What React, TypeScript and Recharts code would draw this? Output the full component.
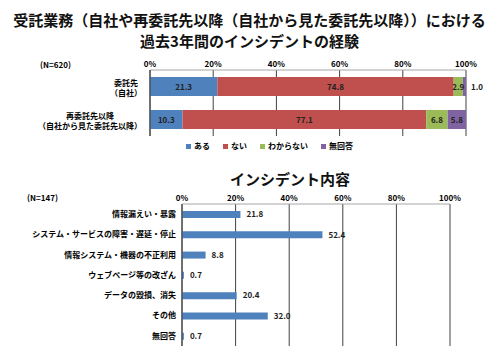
import { Bar, BarChart, CartesianGrid, LabelList, XAxis, YAxis } from 'recharts'

// 上段：過去3年間のインシデントの経験（N=620）
const expCategories = ['委託先\n（自社）', '再委託先以降\n（自社から見た委託先以降）']
const aru = [21.3, 10.3]
const nai = [74.8, 77.1]
const wakaranai = [2.9, 6.8]
const mukaitou = [1.0, 5.8]

// 下段：インシデント内容（N=147）
const incCategories = [
  '情報漏えい・暴露',
  'システム・サービスの障害・遅延・停止',
  '情報システム・機器の不正利用',
  'ウェブページ等の改ざん',
  'データの毀損、消失',
  'その他',
  '無回答',
]
const incValues = [21.8, 52.4, 8.8, 0.7, 20.4, 32.0, 0.7]

const pctTicks = [0, 20, 40, 60, 80, 100]

const FONT = '"Noto Sans CJK JP", "Noto Sans", sans-serif'
const GRID = '#404040'
const FRAME = '#a6a6a6'

// Office系の配色
const SERIES = [
  { key: 'aru', name: 'ある', color: '#4F81BD' },
  { key: 'nai', name: 'ない', color: '#C0504D' },
  { key: 'wakaranai', name: 'わからない', color: '#9BBB59' },
  { key: 'mukaitou', name: '無回答', color: '#8064A2' },
]

const expRows = expCategories.map((c, i) => ({
  cat: c,
  aru: aru[i],
  nai: nai[i],
  wakaranai: wakaranai[i],
  mukaitou: mukaitou[i],
}))
const incRows = incCategories.map((c, i) => ({ cat: c, value: incValues[i] }))

const tickStyle = { fontSize: 8, fill: '#000', fontWeight: 700, fontFamily: FONT }

function TwoLineTick({ x, y, payload }: any) {
  const lines = String(payload.value).split('\n')
  const maxLen = Math.max(...lines.map((l) => l.length))
  const cx = x - maxLen * 4
  return (
    <text x={cx} y={y} textAnchor="middle" {...tickStyle}>
      {lines.map((l, i) => (
        <tspan key={i} x={cx} dy={i === 0 ? -1 : 10}>
          {l}
        </tspan>
      ))}
    </text>
  )
}

// 細すぎるバーは値を右外に出す
function StackLabel({ x, y, width, height, value }: any) {
  if (value == null) return null
  const outside = width < 6
  return (
    <text
      x={outside ? x + width + 5 : x + width / 2}
      y={y + height / 2}
      dy={3}
      textAnchor={outside ? 'start' : 'middle'}
      {...tickStyle}
      fill="#222"
    >
      {Number(value).toFixed(1)}
    </text>
  )
}

export default function App() {
  return (
    <div
      style={{
        position: 'absolute',
        left: 0,
        top: 0,
        width: 499,
        height: 350,
        background: '#fff',
        fontFamily: FONT,
        overflow: 'hidden',
      }}
    >
      <div
        style={{
          position: 'absolute',
          top: 9,
          left: 0,
          width: 499,
          textAlign: 'center',
          fontSize: 15,
          lineHeight: '21px',
          fontWeight: 700,
          color: '#111',
        }}
      >
        受託業務（自社や再委託先以降（自社から見た委託先以降））における
        <br />
        過去3年間のインシデントの経験
      </div>

      <div style={{ position: 'absolute', top: 59, left: 40, fontSize: 8, fontWeight: 700 }}>(N=620)</div>

      <div style={{ position: 'absolute', top: 0, left: 0 }}>
        <BarChart
          width={499}
          height={160}
          data={expRows}
          layout="vertical"
          barSize={19}
          margin={{ top: 60, right: 33, bottom: 24, left: 0 }}
        >
          <CartesianGrid horizontal={false} stroke={GRID} />
          <XAxis
            type="number"
            orientation="top"
            domain={[0, 100]}
            ticks={pctTicks}
            tickFormatter={(v) => `${v}%`}
            height={10}
            tick={tickStyle}
            tickLine={false}
            tickSize={0}
            tickMargin={3}
            axisLine={{ stroke: FRAME }}
          />
          <XAxis xAxisId="b" type="number" orientation="bottom" domain={[0, 100]} height={0} tick={false} tickLine={false} axisLine={{ stroke: FRAME }} />
          <YAxis
            type="category"
            dataKey="cat"
            width={150}
            tick={<TwoLineTick />}
            tickLine={false}
            tickSize={0}
            tickMargin={8}
            axisLine={{ stroke: GRID }}
            interval={0}
          />
          {SERIES.map((s) => (
            <Bar key={s.key} dataKey={s.key} name={s.name} stackId="a" fill={s.color} isAnimationActive={false}>
              <LabelList dataKey={s.key} content={<StackLabel />} />
            </Bar>
          ))}
        </BarChart>
      </div>

      <div
        style={{
          position: 'absolute',
          top: 141,
          left: 186,
          display: 'flex',
          gap: 13,
          fontSize: 8,
          lineHeight: '10px',
          fontWeight: 700,
        }}
      >
        {SERIES.map((s) => (
          <div key={s.key} style={{ display: 'flex', alignItems: 'center', gap: 3 }}>
            <span style={{ width: 5, height: 5, background: s.color, display: 'inline-block' }} />
            <span>{s.name}</span>
          </div>
        ))}
      </div>

      <div
        style={{
          position: 'absolute',
          top: 170,
          left: 290,
          transform: 'translateX(-50%)',
          fontSize: 15,
          lineHeight: '18px',
          fontWeight: 700,
          whiteSpace: 'nowrap',
          color: '#111',
        }}
      >
        インシデント内容
      </div>

      <div style={{ position: 'absolute', top: 192, left: 27, fontSize: 8, fontWeight: 700 }}>(N=147)</div>

      <div style={{ position: 'absolute', top: 0, left: 0 }}>
        <BarChart
          width={499}
          height={350}
          data={incRows}
          layout="vertical"
          barSize={7}
          margin={{ top: 194, right: 49, bottom: 4, left: 0 }}
        >
          <CartesianGrid horizontal={false} stroke={GRID} />
          <XAxis
            type="number"
            orientation="top"
            domain={[0, 100]}
            ticks={pctTicks}
            tickFormatter={(v) => `${v}%`}
            height={10}
            tick={tickStyle}
            tickLine={false}
            tickSize={0}
            tickMargin={3}
            axisLine={{ stroke: FRAME }}
          />
          <XAxis xAxisId="b" type="number" orientation="bottom" domain={[0, 100]} height={0} tick={false} tickLine={false} axisLine={{ stroke: FRAME }} />
          <YAxis
            type="category"
            dataKey="cat"
            width={182}
            tick={tickStyle}
            tickLine={false}
            tickSize={0}
            tickMargin={6}
            axisLine={{ stroke: GRID }}
            interval={0}
          />
          <Bar dataKey="value" fill="#4F81BD" isAnimationActive={false}>
            <LabelList
              dataKey="value"
              position="right"
              offset={6}
              formatter={(v: any) => Number(v).toFixed(1)}
              style={{ ...tickStyle, fill: '#222' }}
            />
          </Bar>
        </BarChart>
      </div>
    </div>
  )
}
